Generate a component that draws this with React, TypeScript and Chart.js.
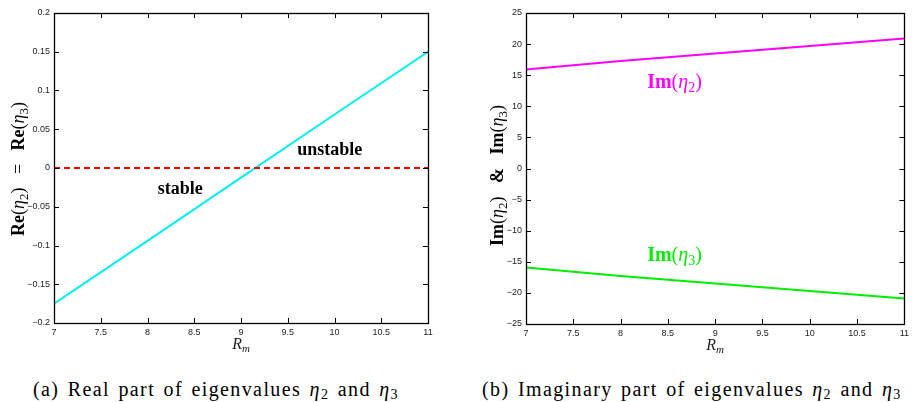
import React, { useEffect, useRef } from "react";
import { Chart, registerables } from "chart.js";

Chart.register(...registerables);

// ---- data ----
const rm = [7, 8, 9, 10, 11];
const reEta = [-0.175, -0.094, -0.0125, 0.069, 0.15];
const zeroLine = [0, 0, 0, 0, 0];
const imEta2 = [15.9, 17.3, 18.5, 19.7, 20.9];
const imEta3 = [-15.9, -17.3, -18.5, -19.7, -20.9];
const xTickStep = 0.5;
const leftYRange = [-0.2, 0.2];
const leftYStep = 0.05;
const rightYRange = [-25, 25];
const rightYStep = 5;

type Run = { t: string; f: string; dy?: number };

const SERIF = "'Liberation Serif', 'Times New Roman', serif";
const SANS = "'Liberation Sans', Arial, sans-serif";

function runsWidth(ctx: CanvasRenderingContext2D, runs: Run[]) {
  let w = 0;
  for (const r of runs) {
    ctx.font = r.f;
    w += ctx.measureText(r.t).width;
  }
  return w;
}

function drawRuns(ctx: CanvasRenderingContext2D, runs: Run[], cx: number, baseline: number, color: string) {
  ctx.fillStyle = color;
  ctx.textAlign = "left";
  ctx.textBaseline = "alphabetic";
  let x = cx - runsWidth(ctx, runs) / 2;
  for (const r of runs) {
    ctx.font = r.f;
    ctx.fillText(r.t, x, baseline + (r.dy || 0));
    x += ctx.measureText(r.t).width;
  }
}

const eta = (sub: string, size: number): Run[] => [
  { t: "(", f: `${size}px ${SERIF}` },
  { t: "η", f: `italic ${size}px ${SERIF}` },
  { t: sub, f: `${Math.round(size * 0.7)}px ${SERIF}`, dy: Math.round(size * 0.2) },
  { t: ")", f: `${size}px ${SERIF}` },
];

const xTitle: Run[] = [
  { t: "R", f: `italic 16px ${SERIF}` },
  { t: "m", f: `italic 11px ${SERIF}`, dy: 3 },
];

const leftYTitle: Run[] = [
  { t: "Re", f: `bold 18px ${SERIF}` },
  ...eta("2", 18),
  { t: "   =   ", f: `18px ${SERIF}` },
  { t: "Re", f: `bold 18px ${SERIF}` },
  ...eta("3", 18),
];

const rightYTitle: Run[] = [
  { t: "Im", f: `bold 18px ${SERIF}` },
  ...eta("2", 18),
  { t: "   &   ", f: `bold 18px ${SERIF}` },
  { t: "Im", f: `bold 18px ${SERIF}` },
  ...eta("3", 18),
];

type Ann = { x: number; y: number; runs: Run[]; color: string };

function fmt(v: number) {
  const n = Number(v.toFixed(3));
  const s = String(Math.abs(n));
  return n < 0 ? "\u2212" + s : s;
}

function decor(yTitle: Run[], yTitleX: number, yTitleShift: number, anns: Ann[]) {
  return {
    id: "decor",
    afterDraw(chart: any) {
      const ctx: CanvasRenderingContext2D = chart.ctx;
      const a = chart.chartArea;
      const xs = chart.scales.x;
      const ys = chart.scales.y;
      ctx.save();
      ctx.strokeStyle = "#000";
      ctx.lineWidth = 1;
      const tl = 5;
      ctx.beginPath();
      for (const t of xs.ticks) {
        const p = Math.round(xs.getPixelForValue(t.value)) + 0.5;
        ctx.moveTo(p, a.bottom);
        ctx.lineTo(p, a.bottom - tl);
        ctx.moveTo(p, a.top);
        ctx.lineTo(p, a.top + tl);
      }
      for (const t of ys.ticks) {
        const p = Math.round(ys.getPixelForValue(t.value)) + 0.5;
        ctx.moveTo(a.left, p);
        ctx.lineTo(a.left + tl, p);
        ctx.moveTo(a.right, p);
        ctx.lineTo(a.right - tl, p);
      }
      ctx.stroke();
      ctx.lineWidth = 1.3;
      ctx.strokeRect(Math.round(a.left) + 0.5, Math.round(a.top) + 0.5, Math.round(a.right - a.left), Math.round(a.bottom - a.top));

      // x title
      drawRuns(ctx, xTitle, (a.left + a.right) / 2, a.bottom + 26, "#222");
      // y title
      ctx.save();
      ctx.translate(yTitleX, (a.top + a.bottom) / 2 + yTitleShift);
      ctx.rotate(-Math.PI / 2);
      drawRuns(ctx, yTitle, 0, 6, "#000");
      ctx.restore();
      // annotations
      for (const an of anns) {
        drawRuns(ctx, an.runs, xs.getPixelForValue(an.x), ys.getPixelForValue(an.y) + 6, an.color);
      }
      ctx.restore();
    },
  };
}

function pts(xs: number[], ys: number[]) {
  return xs.map((x, i) => ({ x, y: ys[i] }));
}

function makeConfig(opts: {
  datasets: any[];
  yMin: number;
  yMax: number;
  yStep: number;
  yWidth: number;
  xHeight: number;
  padRight: number;
  plugin: any;
}) {
  return {
    type: "line",
    data: { datasets: opts.datasets },
    options: {
      animation: false,
      responsive: false,
      maintainAspectRatio: false,
      layout: { padding: { left: 0, top: 13, right: opts.padRight, bottom: 0 } },
      plugins: { legend: { display: false }, tooltip: { enabled: false } },
      elements: { point: { radius: 0 } },
      scales: {
        x: {
          type: "linear",
          min: rm[0],
          max: rm[rm.length - 1],
          grid: { display: false, drawTicks: false },
          border: { display: false },
          ticks: {
            stepSize: xTickStep,
            font: { family: SANS, size: 9 },
            color: "#222",
            padding: 4,
            maxRotation: 0,
            autoSkip: false,
            callback: (v: any) => fmt(Number(v)),
          },
          afterFit: (s: any) => {
            s.height = opts.xHeight;
          },
        },
        y: {
          type: "linear",
          min: opts.yMin,
          max: opts.yMax,
          grid: { display: false, drawTicks: false },
          border: { display: false },
          ticks: {
            stepSize: opts.yStep,
            font: { family: SANS, size: 9 },
            color: "#222",
            padding: 4,
            autoSkip: false,
            callback: (v: any) => fmt(Number(v)),
          },
          afterFit: (s: any) => {
            s.width = opts.yWidth;
          },
        },
      },
    },
    plugins: [opts.plugin],
  };
}

function App() {
  const ref1 = useRef<HTMLCanvasElement>(null);
  const ref2 = useRef<HTMLCanvasElement>(null);

  useEffect(() => {
    const c1 = new Chart(
      ref1.current as HTMLCanvasElement,
      makeConfig({
        datasets: [
          {
            data: pts(rm, zeroLine),
            borderColor: "#ff0000",
            borderWidth: 2,
            borderDash: [6, 4],
            pointRadius: 0,
          },
          {
            data: pts(rm, reEta),
            borderColor: "#00f0f0",
            borderWidth: 2,
            pointRadius: 0,
          },
        ],
        yMin: leftYRange[0],
        yMax: leftYRange[1],
        yStep: leftYStep,
        yWidth: 54,
        xHeight: 37,
        padRight: 28,
        plugin: decor(leftYTitle, 18, 1, [
          { x: 8.35, y: -0.026, runs: [{ t: "stable", f: `bold 18px ${SERIF}` }], color: "#000" },
          { x: 9.95, y: 0.025, runs: [{ t: "unstable", f: `bold 18px ${SERIF}` }], color: "#000" },
        ]),
      }) as any
    );
    const c2 = new Chart(
      ref2.current as HTMLCanvasElement,
      makeConfig({
        datasets: [
          {
            data: pts(rm, imEta2),
            borderColor: "#ff00ff",
            borderWidth: 2,
            pointRadius: 0,
          },
          {
            data: pts(rm, imEta3),
            borderColor: "#00ee00",
            borderWidth: 2,
            pointRadius: 0,
          },
        ],
        yMin: rightYRange[0],
        yMax: rightYRange[1],
        yStep: rightYStep,
        yWidth: 70,
        xHeight: 36,
        padRight: 6,
        plugin: decor(rightYTitle, 41, 7, [
          { x: 8.57, y: 13.9, runs: [{ t: "Im", f: `bold 20px ${SERIF}` }, ...eta("2", 20)], color: "#ff00ff" },
          { x: 8.57, y: -13.9, runs: [{ t: "Im", f: `bold 20px ${SERIF}` }, ...eta("3", 20)], color: "#00ee00" },
        ]),
      }) as any
    );
    return () => {
      c1.destroy();
      c2.destroy();
    };
  }, []);

  const capStyle: React.CSSProperties = {
    position: "absolute",
    top: 379,
    fontFamily: SERIF,
    fontSize: 20,
    letterSpacing: "1.4px",
    wordSpacing: "2px",
    color: "#000",
    whiteSpace: "nowrap",
    lineHeight: "20px",
  };
  const sub: React.CSSProperties = { fontSize: 14, verticalAlign: "-3px", lineHeight: 0 };

  return (
    <div style={{ position: "fixed", left: 0, top: 0, width: 913, height: 402, background: "#fff", overflow: "hidden" }}>
      <canvas ref={ref1} width={456} height={360} style={{ position: "absolute", left: 0, top: 0, width: 456, height: 360 }} />
      <canvas ref={ref2} width={457} height={360} style={{ position: "absolute", left: 456, top: 0, width: 457, height: 360 }} />
      <div style={{ ...capStyle, left: 33 }}>
        (a) Real part of eigenvalues <i>η</i>
        <span style={sub}>2</span> and <i>η</i>
        <span style={sub}>3</span>
      </div>
      <div style={{ ...capStyle, left: 482 }}>
        (b) Imaginary part of eigenvalues <i>η</i>
        <span style={sub}>2</span> and <i>η</i>
        <span style={sub}>3</span>
      </div>
    </div>
  );
}

export default App;
